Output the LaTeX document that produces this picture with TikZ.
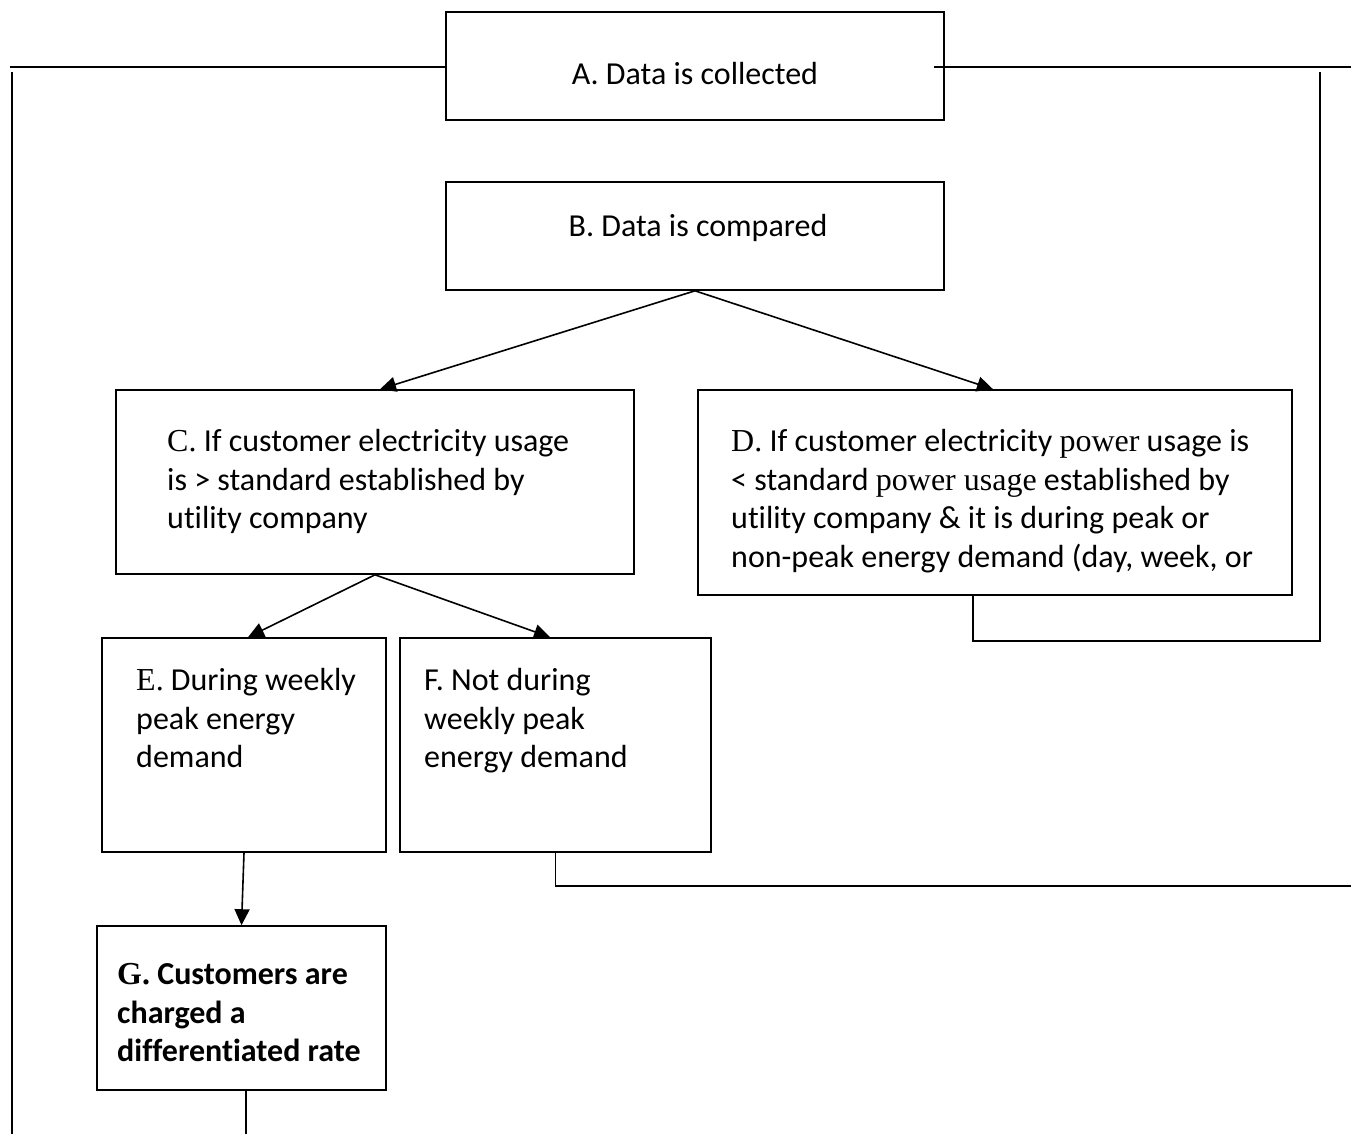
\documentclass[tikz,border=0pt]{standalone}
\usepackage{fontspec}
\setmainfont{Carlito}[Ligatures={NoCommon}]
\newfontfamily\tnr{Liberation Serif}
\usetikzlibrary{arrows.meta}
\tikzset{
  boxstyle/.style={draw, line width=1.6pt, rectangle, inner sep=0pt},
  txt/.style={anchor=north west, inner sep=0pt, align=left, font=\fontsize{32}{38.7}\selectfont,
    execute at begin node={\rule{0pt}{24pt}}},
  ctxt/.style={anchor=north, inner sep=0pt, align=center, font=\fontsize{32}{38.7}\selectfont,
    execute at begin node={\rule{0pt}{24pt}}},
  conn/.style={line width=1.6pt},
  arr/.style={line width=1.6pt, -{Triangle[length=16pt,width=15pt]}}
}
\begin{document}
\begin{tikzpicture}[x=1pt,y=-1pt]
\useasboundingbox (0,0) rectangle (1351,1134);
% boxes
\node[boxstyle, minimum width=498, minimum height=108] (A) at (695,66) {};
\node[boxstyle, minimum width=498, minimum height=108] (B) at (695,236) {};
\node[boxstyle, minimum width=518, minimum height=184] (C) at (375,482) {};
\node[boxstyle, minimum width=594, minimum height=205] (D) at (995,492.5) {};
\node[boxstyle, minimum width=284, minimum height=214] (E) at (244,745) {};
\node[boxstyle, minimum width=311, minimum height=214] (F) at (555.5,745) {};
\node[boxstyle, minimum width=289, minimum height=164] (G) at (241.5,1008) {};
% texts
\node[ctxt] (tA) at (695,60) {A. Data is collected};
\node[ctxt] (tB) at (698,212) {B. Data is compared};
\node[txt] (tC) at (167,429) {{\tnr C.} If customer electricity usage\\is > standard established by\\utility company};
\node[txt] (tD) at (731,429) {{\tnr D.} If customer electricity {\tnr power} usage is\\< standard {\tnr power usage} established by\\utility company \& it is during peak or\\non-peak energy demand (day, week, or};
\node[txt] (tE) at (136,668) {{\tnr E.} During weekly\\peak energy\\demand};
\node[txt] (tF) at (424,668) {F. Not during\\weekly peak\\energy demand};
\node[txt, font=\fontsize{32}{38.7}\selectfont\bfseries] (tG) at (117,963) {{\tnr\bfseries G.} Customers are\\charged a\\differentiated rate};
% free-end coordinates
\coordinate (TL) at (10,67);
\coordinate (TR) at (1351,67);
\coordinate (LT) at (12,72);
\coordinate (LB) at (12,1134);
\coordinate (RT) at (1320,72);
\coordinate (RB) at (1320,641);
\coordinate (FR) at (1351,886);
\coordinate (GB) at (246,1134);
% top lines
\draw[conn] (TL) -- (A.west |- TL);
\draw[conn] ([xshift=-11pt]A.east |- TR) -- (TR);
\draw[conn] (LT) -- (LB);
% arrows
\draw[arr] (B.south) -- ([xshift=5pt]C.north);
\draw[arr] (B.south) -- ([xshift=-2pt]D.north);
\draw[arr] (C.south) -- ([xshift=4pt]E.north);
\draw[arr] (C.south) -- ([xshift=-5.5pt]F.north);
\draw[arr] (E.south) -- (G.north);
% loops
\draw[conn] ([xshift=-22pt]D.south) -- ([xshift=-22pt]D.south |- RB) -- (RB) -- (RT);
\draw[conn] (F.south) -- (F.south |- FR) -- (FR);
\draw[conn] ([xshift=4.5pt]G.south) -- (GB);
\end{tikzpicture}
\end{document}
